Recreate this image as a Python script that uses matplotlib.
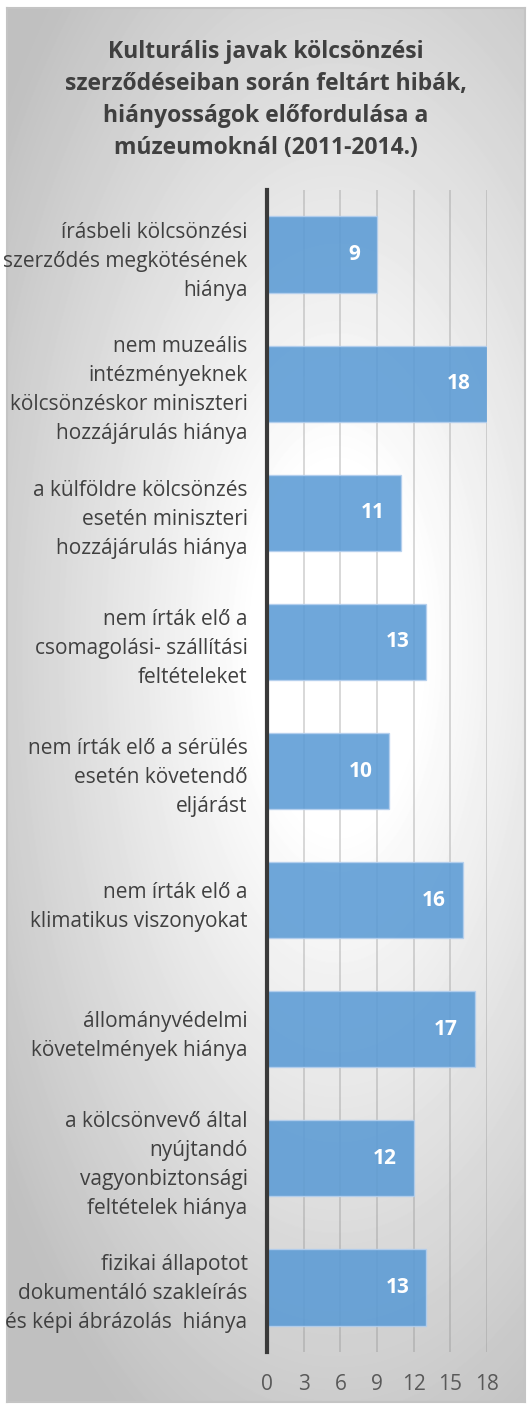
"""Horizontal bar chart of loan contract deficiencies at museums."""
import numpy as np
import matplotlib
matplotlib.use('Agg')
import matplotlib.pyplot as plt

categories = [
    'írásbeli kölcsönzési\nszerződés megkötésének\nhiánya',
    'nem muzeális\nintézményeknek\nkölcsönzéskor miniszteri\nhozzájárulás hiánya',
    'a külföldre kölcsönzés\nesetén miniszteri\nhozzájárulás hiánya',
    'nem írták elő a\ncsomagolási- szállítási\nfeltételeket',
    'nem írták elő a sérülés\nesetén követendő\neljárást',
    'nem írták elő a\nklimatikus viszonyokat',
    'állományvédelmi\nkövetelmények hiánya',
    'a kölcsönvevő által\nnyújtandó\nvagyonbiztonsági\nfeltételek hiánya',
    'fizikai állapotot\ndokumentáló szakleírás\nés képi ábrázolás  hiánya',
]
counts = [9, 18, 11, 13, 10, 16, 17, 12, 13]
x_ticks = [0, 3, 6, 9, 12, 15, 18]
title = ('Kulturális javak kölcsönzési\nszerződéseiban során feltárt hibák,\n'
         'hiányosságok előfordulása a\nmúzeumoknál (2011-2014.)')

W, H = 532, 1410
plt.rcParams['font.family'] = ['Open Sans', 'DejaVu Sans']
fig = plt.figure(figsize=(W / 100, H / 100), dpi=100)


def px(x0, y0, x1, y1):
    """Pixel box (top-left origin) to figure fraction rect."""
    return [x0 / W, 1 - y1 / H, (x1 - x0) / W, (y1 - y0) / H]


# radial gradient background of the chart frame
bg = fig.add_axes(px(7, 8, 525, 1402), zorder=0)
gy, gx = np.mgrid[0:1394, 0:518]
d = np.sqrt(((gx - 330) / 420.0) ** 2 + ((gy - 640) / 900.0) ** 2)
shade = 1.0 - 0.25 * np.clip((d - 0.2) / 0.8, 0, 1)
bg.imshow(shade, cmap='gray', vmin=0, vmax=1, aspect='auto',
          interpolation='bilinear')
bg.set_xticks([])
bg.set_yticks([])
for s in bg.spines.values():
    s.set_color('#c4c4c4')
    s.set_linewidth(1.5)

ax = fig.add_axes(px(267, 190, 487, 1352), zorder=1)
ax.patch.set_alpha(0)
y = np.arange(len(categories))
bars = ax.barh(y, counts, height=0.59, color='#5b9bd5', alpha=0.88,
               edgecolor='#b4cfee', linewidth=1.0, zorder=3)
ax.set_ylim(len(categories) - 0.5, -0.5)
ax.set_xlim(0, 18)
ax.set_xticks(x_ticks)
ax.set_xticklabels([str(t) for t in x_ticks])
ax.set_yticks(y)
ax.set_yticklabels(categories, linespacing=1.5)
ax.tick_params(axis='y', length=0, pad=14, labelsize=15,
               labelcolor='#404040')
ax.tick_params(axis='x', length=0, pad=16, labelsize=15,
               labelcolor='#595959')
for lbl in ax.get_yticklabels():
    lbl.set_multialignment('right')
ax.grid(axis='x', color='#8a8a8a', alpha=0.35, linewidth=1.3, zorder=1)
ax.set_axisbelow(True)
for name in ['top', 'right', 'bottom']:
    ax.spines[name].set_visible(False)
ax.spines['left'].set_color('#3a3a3a')
ax.spines['left'].set_linewidth(3)
ax.spines['left'].set_zorder(4)

for rect, val in zip(bars, counts):
    ax.annotate(str(val), (rect.get_width(), rect.get_y() + rect.get_height() / 2),
                xytext=(-12, 0), textcoords='offset points', ha='right',
                va='center', color='white', fontweight='bold', fontsize=15,
                zorder=5)

fig.text(266 / W, 1 - 100 / H, title, ha='center', va='center',
         fontsize=16.5, fontweight='bold', color='#404040', linespacing=1.45)

fig.savefig('out.png', dpi=100)
